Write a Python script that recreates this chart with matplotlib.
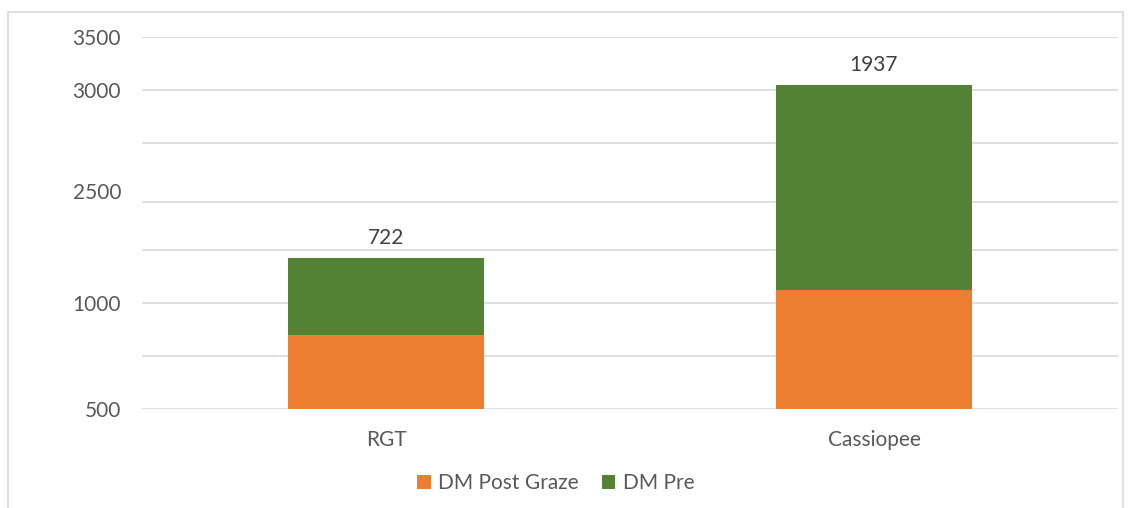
import matplotlib.pyplot as plt
from matplotlib.patches import Rectangle

# data
categories = ['RGT', 'Cassiopee']
dm_post_graze = [700, 1115]
dm_pre = [722, 1937]

# y axis as it is labelled in the original (labels do not follow the grid)
tick_pos = [0, 1000, 2050, 3000, 3500]
tick_labels = ['500', '1000', '2500', '3000', '3500']
grid_pos = [0, 500, 1000, 1500, 1950, 2500, 3000, 3500]

orange = '#ED7D31'
green = '#548235'
text_col = '#595959'

plt.rcParams['font.family'] = ['Lato', 'DejaVu Sans']

fig = plt.figure(figsize=(11.32, 5.08), dpi=100)
ax = fig.add_axes([0.1254, 0.1949, 0.8622, 0.7323])

# outer chart border
fig.patches.append(Rectangle((0.007, -0.1), 0.985, 1.077, transform=fig.transFigure,
                             fill=False, edgecolor='#D9D9D9', linewidth=1.2))

for g in grid_pos:
    ax.axhline(g, color='#D9D9D9', linewidth=1.2, zorder=0)

x = range(len(categories))
ax.bar(x, dm_post_graze, width=0.4, color=orange, label='DM Post Graze', zorder=2)
ax.bar(x, dm_pre, width=0.4, bottom=dm_post_graze, color=green, label='DM Pre', zorder=2)

for i in x:
    ax.annotate(str(dm_pre[i]), (i, dm_post_graze[i] + dm_pre[i]), xytext=(0, 7),
                textcoords='offset points', ha='center', va='bottom',
                fontsize=15, color='#404040')

ax.set_xlim(-0.5, 1.5)
ax.set_ylim(0, 3500)
ax.set_xticks(list(x))
ax.set_xticklabels(categories)
ax.set_yticks(tick_pos)
ax.set_yticklabels(tick_labels)
ax.tick_params(axis='both', length=0, labelsize=15, labelcolor=text_col)
ax.tick_params(axis='y', pad=15)
ax.tick_params(axis='x', pad=15)
for s in ax.spines.values():
    s.set_visible(False)

fig.legend(loc='center', bbox_to_anchor=(0.491, 0.049), ncol=2, frameon=False,
           fontsize=15, labelcolor=text_col, handlelength=0.65, handleheight=0.65,
           handletextpad=0.35, columnspacing=1.1)

fig.savefig('out.png', dpi=100)
